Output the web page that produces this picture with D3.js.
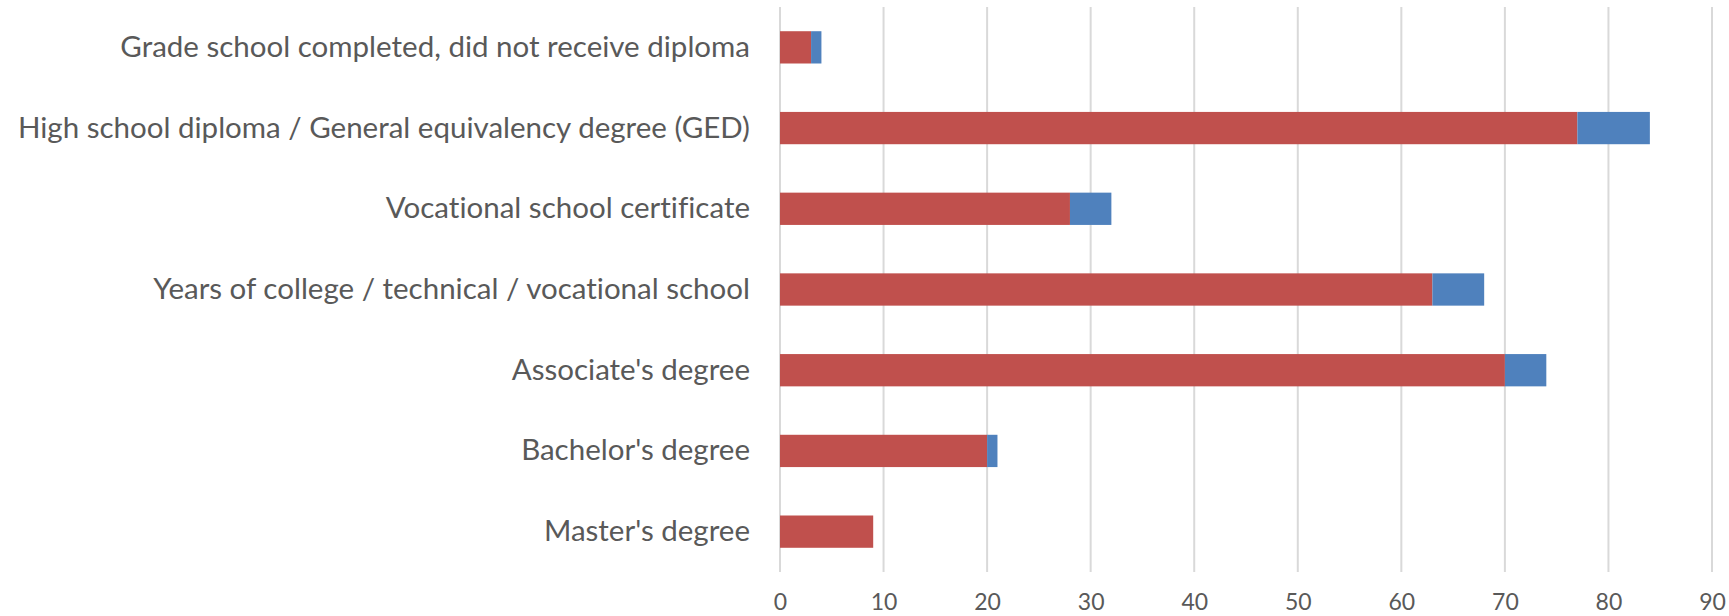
<!DOCTYPE html>
<html>
<head>
<meta charset="utf-8">
<script src="https://cdn.jsdelivr.net/npm/d3@7"></script>
<style>
  body { margin: 0; background: #fff; }
  svg { display: block; font-family: Lato, sans-serif; font-variant-ligatures: none; }
</style>
</head>
<body>
<svg id="chart" width="1729" height="616"></svg>
<script>
// categories top to bottom
const categories = [
  'Grade school completed, did not receive diploma',
  'High school diploma / General equivalency degree (GED)',
  'Vocational school certificate',
  'Years of college / technical / vocational school',
  'Associate\'s degree',
  'Bachelor\'s degree',
  'Master\'s degree',
];
// first (red) segment and second (blue) segment
const redValues = [3, 77, 28, 63, 70, 20, 9];
const blueValues = [1, 7, 4, 5, 4, 1, 0];
const xTicks = [0, 10, 20, 30, 40, 50, 60, 70, 80, 90];

const svg = d3.select('#chart');
const margin = { top: 7, right: 17, bottom: 44, left: 780 };
const width = +svg.attr('width') - margin.left - margin.right;
const height = +svg.attr('height') - margin.top - margin.bottom;

const g = svg.append('g').attr('transform', `translate(${margin.left},${margin.top})`);

const x = d3.scaleLinear()
  .domain([0, 90])
  .range([0, width]);

const y = d3.scaleBand()
  .domain(categories)
  .range([0, height])
  .paddingInner(0.6)
  .paddingOuter(0.3);

// grid lines
g.append('g')
  .selectAll('line')
  .data(xTicks)
  .enter()
  .append('line')
  .attr('x1', d => x(d))
  .attr('x2', d => x(d))
  .attr('y1', 0)
  .attr('y2', height)
  .attr('stroke', '#d9d9d9')
  .attr('stroke-width', 2);

const rows = categories.map((c, i) => ({ cat: c, red: redValues[i], blue: blueValues[i] }));
const stack = d3.stack().keys(['red', 'blue'])(rows);
const colors = { red: '#c0504d', blue: '#4f81bd' };

g.selectAll('.series')
  .data(stack)
  .enter().append('g')
  .attr('class', 'series')
  .attr('fill', d => colors[d.key])
  .selectAll('rect')
  .data(d => d.filter(p => p[1] > p[0]))
  .enter().append('rect')
  .attr('x', d => x(d[0]))
  .attr('width', d => x(d[1]) - x(d[0]))
  .attr('y', d => y(d.data.cat))
  .attr('height', y.bandwidth());

// y axis labels
const yAxis = g.append('g')
  .call(d3.axisLeft(y).tickSize(0).tickPadding(30));
yAxis.select('.domain').remove();
yAxis.selectAll('text')
  .attr('fill', '#595959')
  .attr('font-size', '29.5px')
  .attr('font-family', 'Lato, sans-serif');

// x axis labels
const xAxis = g.append('g')
  .attr('transform', `translate(0,${height})`)
  .call(d3.axisBottom(x).tickValues(xTicks).tickSize(0).tickPadding(22));
xAxis.select('.domain').remove();
xAxis.selectAll('text')
  .attr('fill', '#595959')
  .attr('font-size', '23px')
  .attr('font-family', 'Lato, sans-serif');
</script>
</body>
</html>
